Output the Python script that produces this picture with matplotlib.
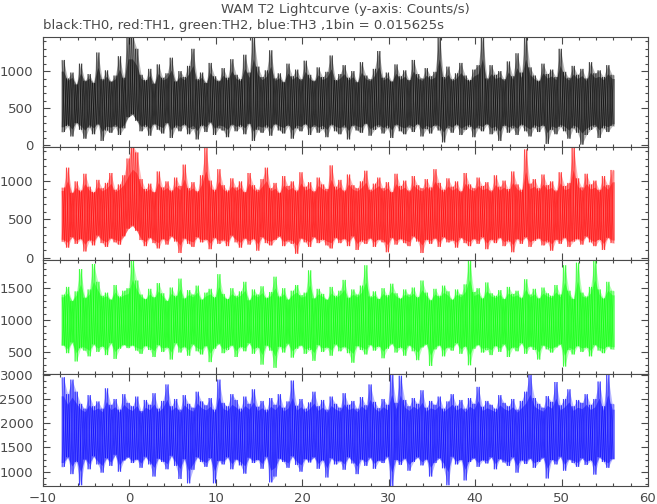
#
# plot.py
# WAM T2 lightcurve, four energy channels stacked
#

import numpy as np
import matplotlib.pyplot as plt
from matplotlib.ticker import MultipleLocator
from matplotlib.collections import LineCollection

# Time axis: 0.5 s groups starting at t_start, each group gives the local
# max (hi) and min (lo) of the light curve
t_start = -7.9
t_group = 0.5

# TH0 (black)
th0_hi = [1150, 900, 980, 820, 1100, 870, 960, 840, 1250, 890,
          1010, 860, 940, 1200, 910, 1480, 1480, 1300, 950, 880,
          1030, 830, 1090, 910, 970, 1180, 860, 1000, 920, 1070,
          1300, 890, 980, 840, 1110, 930, 870, 1040, 910, 1160,
          950, 890, 1220, 980, 1480, 1060, 920, 1010, 1280, 900,
          970, 850, 1100, 930, 1020, 890, 1140, 950, 870, 1050,
          920, 990, 1210, 880, 960, 1080, 910, 1000, 850, 1120,
          940, 890, 1030, 1270, 910, 980, 860, 1090, 930, 1010,
          880, 1150, 960, 900, 1040, 930, 990, 1480, 920, 1060,
          890, 970, 1110, 940, 880, 1020, 1080, 1480, 900, 1080,
          950, 1000, 890, 1130, 930, 1240, 980, 1480, 1050, 940,
          870, 1100, 960, 1020, 920, 1300, 990, 910, 1070, 950,
          1030, 900, 1120, 970, 1010, 920, 1080, 950]
th0_lo = [180, 260, 120, 300, 210, 90, 240, 150, 280, 60,
          200, 170, 250, 140, 230, 380, 420, 330, 190, 250,
          130, 280, 210, 160, 300, 100, 240, 190, 270, 150,
          220, 80, 260, 180, 310, 140, 230, 200, 110, 270,
          190, 250, 150, 290, 60, 210, 170, 240, 130, 280,
          200, 160, 260, 90, 230, 190, 280, 140, 250, 170,
          220, 110, 270, 190, 150, 240, 80, 260, 200, 170,
          290, 130, 210, 250, 160, 230, 100, 270, 190, 150,
          240, 180, 280, 120, 220, 160, 260, 200, 40, 230,
          170, 270, 140, 210, 250, 110, 230, 190, 280, 150,
          200, 60, 260, 170, 230, 140, 270, 190, 120, 240,
          180, 260, 20, 210, 150, 250, 190, 90, 230, 170,
          10, 140, 210, 250, 100, 230, 180, 260]
th0_core = [320, 850]

# TH1 (red)
th1_hi = [920, 1180, 850, 1000, 880, 1100, 930, 860, 1020, 910,
          980, 1110, 890, 960, 1080, 1300, 1480, 1380, 1030, 900,
          970, 860, 1130, 920, 1000, 880, 1050, 940, 1220, 910,
          990, 870, 1080, 1440, 1010, 890, 1160, 950, 880, 1040,
          920, 1000, 860, 1110, 950, 890, 1030, 1180, 910, 980,
          850, 1070, 940, 1000, 880, 1120, 930, 990, 870, 1050,
          960, 900, 1210, 930, 1020, 880, 1090, 950, 910, 1000,
          1140, 890, 970, 1050, 910, 990, 860, 1100, 940, 1010,
          880, 1070, 950, 910, 1030, 920, 1160, 980, 890, 1040,
          930, 1000, 870, 1110, 960, 910, 1050, 940, 990, 880,
          1080, 930, 1010, 900, 1130, 960, 890, 1420, 970, 1030,
          910, 1090, 950, 1000, 880, 1120, 940, 980, 1460, 1040,
          920, 1100, 960, 1010, 890, 1070, 950, 1150]
th1_lo = [210, 130, 270, 180, 240, 80, 220, 160, 290, 190,
          140, 250, 200, 170, 280, 380, 420, 350, 230, 150,
          260, 190, 120, 240, 170, 280, 210, 60, 250, 180,
          140, 270, 200, 230, 110, 260, 180, 220, 150, 290,
          200, 130, 250, 170, 240, 90, 270, 190, 160, 230,
          280, 150, 210, 180, 50, 250, 200, 140, 270, 190,
          230, 160, 120, 260, 190, 240, 150, 280, 100, 210,
          180, 250, 140, 230, 200, 70, 260, 170, 240, 190,
          150, 280, 210, 60, 230, 180, 250, 140, 270, 200,
          220, 130, 260, 190, 150, 240, 180, 270, 110, 230,
          190, 260, 150, 210, 70, 240, 180, 270, 140, 220,
          250, 160, 200, 90, 230, 180, 260, 140, 210, 240,
          170, 280, 200, 150, 230, 100, 260, 190]
th1_core = [270, 840]

# TH2 (green)
th2_hi = [1400, 1520, 1300, 1450, 1800, 1350, 1480, 1880, 1600, 1380,
          1430, 1320, 1550, 1370, 1460, 1500, 1940, 1620, 1400, 1330,
          1490, 1360, 1580, 1420, 1300, 1510, 1380, 1650, 1340, 1470,
          1400, 1540, 1320, 1430, 1490, 1360, 1720, 1410, 1330, 1500,
          1380, 1450, 1600, 1310, 1480, 1400, 1530, 1350, 1440, 1680,
          1370, 1500, 1320, 1460, 1550, 1390, 1430, 1780, 1340, 1490,
          1410, 1320, 1520, 1380, 1460, 1630, 1350, 1480, 1400, 1540,
          1860, 1370, 1450, 1330, 1500, 1390, 1570, 1420, 1340, 1480,
          1400, 1510, 1360, 1620, 1430, 1310, 1490, 1380, 1540, 1450,
          1320, 1480, 1400, 1560, 1940, 1440, 1500, 1340, 1590, 1420,
          1380, 1470, 1330, 1520, 1410, 1460, 1350, 1640, 1400, 1490,
          1340, 1510, 1420, 1380, 1550, 1400, 1860, 1460, 1330, 1900,
          1430, 1370, 1520, 1930, 1480, 1340, 1600, 1460]
th2_lo = [600, 480, 650, 350, 560, 520, 430, 620, 500, 580,
          450, 640, 390, 550, 610, 560, 600, 520, 470, 590,
          530, 420, 610, 500, 560, 380, 640, 490, 570, 440,
          620, 510, 460, 590, 340, 550, 630, 480, 530, 600,
          420, 570, 510, 640, 470, 560, 300, 600, 520, 250,
          580, 490, 630, 410, 550, 600, 470, 530, 360, 610,
          500, 560, 440, 620, 510, 570, 480, 330, 590, 530,
          460, 610, 520, 580, 400, 550, 630, 490, 560, 440,
          600, 510, 370, 570, 620, 280, 540, 600, 430, 560,
          520, 640, 470, 580, 290, 550, 610, 490, 530, 450,
          590, 500, 620, 420, 560, 510, 640, 470, 580, 530,
          380, 600, 540, 490, 570, 620, 270, 530, 460, 590,
          500, 560, 430, 610, 520, 480, 580, 540]
th2_core = [620, 1330]

# TH3 (blue)
th3_hi = [2950, 2600, 2900, 2650, 2400, 2300, 2580, 2350, 2450, 2300,
          2720, 2380, 2500, 2280, 2600, 2420, 2350, 2550, 2250, 2480,
          2380, 2620, 2300, 2460, 2800, 2350, 2500, 2280, 2580, 2400,
          2320, 2650, 2450, 2370, 2520, 2280, 2900, 2420, 2350, 2600,
          2480, 2300, 2550, 2400, 2700, 2340, 2460, 2280, 2520, 2380,
          2600, 2320, 2450, 2880, 2360, 2500, 2300, 2430, 2650, 2350,
          2480, 2280, 2550, 2400, 2320, 2620, 2380, 2460, 2300, 2540,
          2370, 2800, 2440, 2310, 2500, 2380, 3010, 2420, 2980, 2480,
          2350, 2520, 2400, 2680, 2320, 2460, 2380, 2550, 2300, 2450,
          2600, 2360, 2480, 2300, 2520, 2400, 2750, 2340, 2460, 2380,
          2300, 2580, 2420, 2350, 2500, 2280, 2460, 2650, 3010, 2520,
          2400, 2320, 2560, 2440, 2850, 2370, 2500, 2700, 2350, 2480,
          2420, 2600, 2380, 2500, 2860, 2350, 3000, 2400]
th3_lo = [1100, 1300, 950, 1200, 720, 1250, 1050, 1320, 1150, 980,
          1280, 1120, 1350, 1000, 1230, 1300, 1180, 1250, 1080, 1310,
          1150, 900, 1270, 1200, 1050, 1330, 1120, 850, 1260, 760,
          1040, 1300, 1200, 1100, 1280, 760, 1220, 1150, 1300, 1050,
          1250, 1130, 960, 1290, 1180, 1240, 1060, 1310, 780, 900,
          1270, 1200, 1080, 1320, 1140, 1000, 1260, 1190, 1300, 1060,
          1230, 880, 1280, 1150, 1210, 1040, 1300, 1170, 950, 1250,
          1120, 1290, 1060, 1220, 1180, 1310, 700, 1240, 1140, 1270,
          1020, 1200, 1300, 1130, 1250, 900, 1180, 1280, 1070, 720,
          1310, 1150, 1240, 820, 1200, 1280, 1100, 1230, 1170, 1300,
          1050, 1260, 1190, 1120, 1300, 980, 1230, 1160, 1270, 1080,
          1200, 1290, 860, 1240, 1150, 1310, 1020, 1250, 1180, 1100,
          1280, 1140, 1230, 940, 1300, 1200, 1080, 1260]
th3_core = [1280, 2180]

# Y tick values of each panel
th0_ticks = [0, 500, 1000]
th1_ticks = [0, 500, 1000]
th2_ticks = [500, 1000, 1500]
th3_ticks = [1000, 1500, 2000, 2500, 3000]

title = 'WAM T2 Lightcurve (y-axis: Counts/s)'
subtitle = 'black:TH0, red:TH1, green:TH2, blue:TH3 ,1bin = 0.015625s'

# Panel settings: data, colour, y range, minor step, axes box (fig fraction)
panels = [
    (th0_hi, th0_lo, th0_core, th0_ticks, '#000000', (-22, 1459), 100,
     0.7083, 0.2183),
    (th1_hi, th1_lo, th1_core, th1_ticks, '#ff0000', (-32, 1451), 100,
     0.4841, 0.2242),
    (th2_hi, th2_lo, th2_core, th2_ticks, '#00ff00', (153, 1942), 100,
     0.2579, 0.2262),
    (th3_hi, th3_lo, th3_core, th3_ticks, '#0000ff', (705, 3015), 125,
     0.0357, 0.2222),
]

grey = '#4a4a4a'
plt.rcParams['font.family'] = ['DejaVu Sans']

fig = plt.figure(figsize=[6.57, 5.04], dpi=100)


def band(ax, x, low, high, col, alpha):
    # filled band with the ends held flat to the edges of the data
    xe = np.concatenate([[t_start], x, [t_start + len(x) * t_group]])
    ax.fill_between(xe, np.concatenate([[low[0]], low, [low[-1]]]),
                    np.concatenate([[high[0]], high, [high[-1]]]),
                    color=col, alpha=alpha, lw=0)


for i, (hi, lo, core, yt, col, yl, ymin_step, y0, h) in enumerate(panels):
    ax = fig.add_axes([0.0654, y0, 0.9209, h])

    n = len(hi)
    hi = np.array(hi, dtype=float)
    lo = np.array(lo, dtype=float)
    tg = t_start + t_group * np.arange(n)

    # light band between the min and max of every group
    band(ax, tg + 0.25, lo, hi, col, 0.28)

    # denser middle of the band, pulled half way toward each group's extremes
    c_hi = np.minimum(hi, core[1] + 0.5 * (hi - core[1]))
    c_lo = np.maximum(lo, core[0] - 0.5 * (core[0] - lo))
    band(ax, tg + 0.25, c_lo, c_hi, col, 0.45)

    # strokes: two zig-zags through the max/min points, out of phase
    for a, b in [(hi, lo), (lo, hi)]:
        x = np.empty(2 * n)
        y = np.empty(2 * n)
        x[0::2] = tg + 0.125
        x[1::2] = tg + 0.375
        y[0::2] = a
        y[1::2] = b
        pts = np.column_stack([x, y])
        segs = np.stack([pts[:-1], pts[1:]], axis=1)
        ax.add_collection(LineCollection(segs, colors=col, linewidths=0.8,
                                         alpha=0.5))

    ax.set_xlim(-10, 60)
    ax.set_ylim(*yl)
    ax.xaxis.set_major_locator(MultipleLocator(10))
    ax.xaxis.set_minor_locator(MultipleLocator(2))
    ax.set_yticks(yt)
    ax.yaxis.set_minor_locator(MultipleLocator(ymin_step))

    ax.tick_params(which='both', direction='in', top=True, right=True,
                   colors=grey, labelsize=9.5, width=0.8)
    ax.tick_params(which='major', length=5)
    ax.tick_params(which='minor', length=2.5)
    ax.tick_params(axis='y', pad=7)
    ax.tick_params(axis='x', pad=4.5, labelbottom=(i == len(panels) - 1))
    for s in ax.spines.values():
        s.set_color(grey)
        s.set_linewidth(0.8)

fig.text(0.526, 0.982, title, ha='center', va='center', fontsize=9.5,
         color=grey)
fig.text(0.066, 0.950, subtitle, ha='left', va='center', fontsize=9.5,
         color=grey)

plt.savefig('out.png')
